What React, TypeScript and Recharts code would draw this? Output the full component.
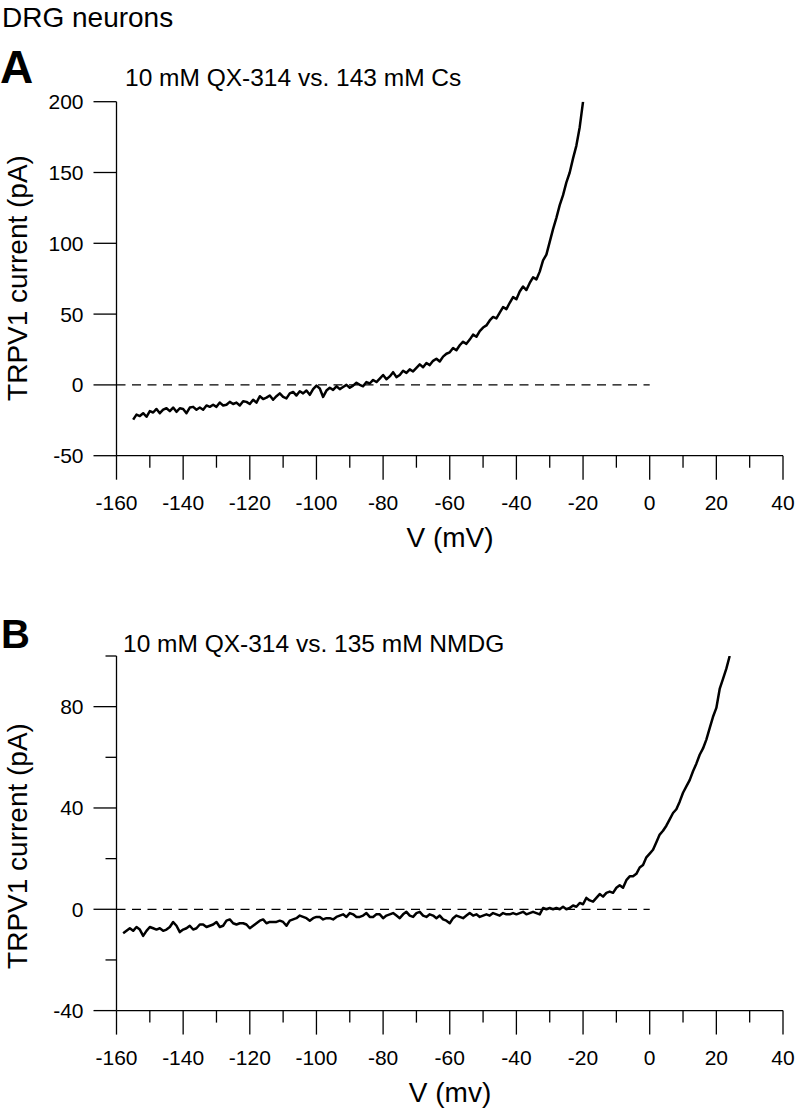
import React from 'react';
import { LineChart, Line, XAxis, YAxis, ReferenceLine } from 'recharts';

const FONT = '"Liberation Sans", Arial, Helvetica, sans-serif';

// ---------- Data ----------
const voltsA = [
  -155, -154, -153, -152, -151, -150, -149, -148, -147, -146, -145, -144, -143, -142, -141, -140,
  -139, -138, -137, -136, -135, -134, -133, -132, -131, -130, -129, -128, -127, -126, -125, -124,
  -123, -122, -121, -120, -119, -118, -117, -116, -115, -114, -113, -112, -111, -110, -109, -108,
  -107, -106, -105, -104, -103, -102, -101, -100, -99, -98, -97, -96, -95, -94, -93, -92, -91, -90,
  -89, -88, -87, -86, -85, -84, -83, -82, -81, -80, -79, -78, -77, -76, -75, -74, -73, -72, -71, -70,
  -69, -68, -67, -66, -65, -64, -63, -62, -61, -60, -59, -58, -57, -56, -55, -54, -53, -52, -51, -50,
  -49, -48, -47, -46, -45, -44, -43, -42, -41, -40, -39, -38, -37, -36, -35, -34, -33, -32, -31, -30,
  -29, -28, -27, -26, -25, -24, -23, -22, -21, -20,
];
const currentA = [
  -24.5, -21, -22, -20, -22.5, -18.5, -19.5, -17, -20, -17.5, -16.5, -18.5, -16, -19, -16.5, -17,
  -20, -16, -15.5, -17.5, -16, -17.5, -14.5, -15.5, -14, -15.5, -12.5, -14.5, -14, -12, -13.5, -12.5,
  -14.5, -11.5, -12, -13.5, -10.5, -12.5, -8, -10, -9, -7.5, -10.5, -8, -6, -8.5, -9.5, -6,
  -5, -7.5, -4.5, -6, -4, -7, -3, -0.5, -2.5, -8.5, -4, -2, -3.5, -1, -3, -1.5, 0, -2,
  -0.5, 1.5, 0, -1, 2, 1, 3.5, 2, 4.5, 7, 4, 6, 9, 5.5, 7, 10, 8.5, 11, 9.5, 12,
  14.5, 12.5, 15.5, 14, 17, 18.5, 16.5, 20, 22, 23, 26, 24.5, 28, 30.5, 29, 32, 35.5, 34, 38, 40.5,
  42, 45.5, 48, 47, 51, 55, 53.5, 58, 62, 60.5, 66, 69.5, 67, 72, 76, 74.5, 80, 88, 92, 101,
  110, 118, 127, 134, 143, 150, 160, 169, 182, 200,
];

const voltsB = [
  -158, -157, -156, -155, -154, -153, -152, -151, -150, -149, -148, -147, -146, -145, -144, -143,
  -142, -141, -140, -139, -138, -137, -136, -135, -134, -133, -132, -131, -130, -129, -128, -127,
  -126, -125, -124, -123, -122, -121, -120, -119, -118, -117, -116, -115, -114, -113, -112, -111,
  -110, -109, -108, -107, -106, -105, -104, -103, -102, -101, -100, -99, -98, -97, -96, -95, -94,
  -93, -92, -91, -90, -89, -88, -87, -86, -85, -84, -83, -82, -81, -80, -79, -78, -77, -76, -75,
  -74, -73, -72, -71, -70, -69, -68, -67, -66, -65, -64, -63, -62, -61, -60, -59, -58, -57, -56,
  -55, -54, -53, -52, -51, -50, -49, -48, -47, -46, -45, -44, -43, -42, -41, -40, -39, -38, -37,
  -36, -35, -34, -33, -32, -31, -30, -29, -28, -27, -26, -25, -24, -23, -22, -21, -20, -19, -18,
  -17, -16, -15, -14, -13, -12, -11, -10, -9, -8, -7, -6, -5, -4, -3, -2, -1, 0, 1, 2, 3, 4, 5,
  6, 7, 8, 9, 10, 11, 12, 13, 14, 15, 16, 17, 18, 19, 20, 21, 22, 23, 24,
];
const currentB = [
  -9.5, -8.5, -7.5, -8.5, -7, -8, -10.5, -8.5, -7, -7.5, -8, -7.5, -8.5, -8, -7, -5,
  -6.5, -9, -8, -7.5, -6.5, -8, -7.5, -6, -6, -7, -6.5, -6, -5, -7, -6.5, -4.5,
  -4, -5.5, -6, -5.5, -5.5, -6, -7.5, -6.5, -5.5, -4.5, -4, -5.5, -5, -5, -5, -4.5,
  -5, -6.5, -4.5, -4, -3.5, -2.5, -3, -3.5, -4.5, -3.5, -3, -3, -4, -3.5, -3.5, -4, -3,
  -2.5, -2, -3, -1.5, -2, -3, -3, -2.5, -1.5, -3, -3, -2, -2, -3.5, -2.5, -2, -1.5, -2.5, -3.5,
  -2, -1, -2.5, -3, -1.5, -1, -2.5, -3, -2, -2.5, -3.5, -2.5, -4, -4.5, -5.5, -3.5, -2.5, -3, -3.5,
  -2.5, -1.5, -2.5, -2, -3, -2.5, -2, -2.5, -1.5, -2, -2.5, -1.5, -2, -2, -1.5, -2, -1.5, -1, -2,
  -1.5, -1, -1.5, -2, 0.5, 0, 0.5, 0, 0.5, 0, 1, 0, 0.5, 1.5, 1, 2.5, 2, 4.5, 3.5,
  3, 4.5, 6, 5, 6.5, 7, 6.5, 8.5, 9.5, 8.5, 11.5, 13, 13, 14, 16.5, 17.5, 20.5, 22, 23.5, 26.5, 29.5, 31, 33,
  35.5, 38, 39.5, 42.5, 46, 48.5, 51, 54.5, 57.5, 61, 63.5, 67, 71.5, 76, 79.5, 87, 91, 95, 100,
];

const xTicks = [-160, -150, -140, -130, -120, -110, -100, -90, -80, -70, -60, -50, -40, -30, -20, -10, 0, 10, 20, 30, 40];
const xLabelledTicks = [-160, -140, -120, -100, -80, -60, -40, -20, 0, 20, 40];
const yTicksA = [-50, 0, 50, 100, 150, 200];
const yTicksB = [-40, -20, 0, 20, 40, 60, 80, 100];
const yLabelledTicksB = [-40, 0, 40, 80];

const rowsA = voltsA.map((v, k) => ({ v, cur: currentA[k] }));
const rowsB = voltsB.map((v, k) => ({ v, cur: currentB[k] }));

// ---------- Layout ----------
const W = 799;
const AXIS_X = 116.5;
const AXIS_STROKE = 1.3;

const makeXTick = (axisY: number, labelBaseline: number) => (p: any) => {
  const major = xLabelledTicks.includes(p.payload.value);
  return (
    <g key={`xt-${p.payload.value}`}>
      <line x1={p.x} x2={p.x} y1={axisY} y2={axisY + (major ? 24 : 12)} stroke="#000" strokeWidth={AXIS_STROKE} />
      {major && (
        <text x={p.x} y={labelBaseline} textAnchor="middle" fontFamily={FONT} fontSize={21} fill="#000">
          {String(p.payload.value)}
        </text>
      )}
    </g>
  );
};

const makeYTick = (labelled: number[]) => (p: any) => {
  const major = labelled.includes(p.payload.value);
  return (
    <g key={`yt-${p.payload.value}`}>
      <line x1={AXIS_X - (major ? 23 : 11)} x2={AXIS_X} y1={p.y} y2={p.y} stroke="#000" strokeWidth={AXIS_STROKE} />
      {major && (
        <text x={AXIS_X - 33} y={p.y + 7.5} textAnchor="end" fontFamily={FONT} fontSize={21} fill="#000">
          {String(p.payload.value)}
        </text>
      )}
    </g>
  );
};

const ChartA = () => (
  <LineChart width={W} height={530} data={rowsA} margin={{ top: 101.7, right: 16, bottom: 0, left: 0 }}>
    <XAxis
      dataKey="v"
      type="number"
      domain={[-160, 40]}
      ticks={xTicks}
      interval={0}
      height={74.3}
      allowDataOverflow
      tickLine={false}
      axisLine={{ stroke: '#000', strokeWidth: AXIS_STROKE }}
      tick={makeXTick(455.7, 510)}
    />
    <YAxis
      type="number"
      domain={[-50, 200]}
      ticks={yTicksA}
      interval={0}
      width={AXIS_X}
      allowDataOverflow
      tickLine={false}
      axisLine={{ stroke: '#000', strokeWidth: AXIS_STROKE }}
      tick={makeYTick(yTicksA)}
    />
    <ReferenceLine
      segment={[{ x: -160, y: 0 }, { x: 0, y: 0 }]}
      stroke="#000"
      strokeWidth={1.3}
      strokeDasharray="9 6.5"
      ifOverflow="visible"
    />
    <Line
      dataKey="cur"
      type="linear"
      stroke="#000"
      strokeWidth={2.5}
      strokeLinejoin="round"
      dot={false}
      activeDot={false}
      isAnimationActive={false}
    />
  </LineChart>
);

const ChartB = () => (
  <LineChart width={W} height={551} data={rowsB} margin={{ top: 96, right: 16, bottom: 0, left: 0 }}>
    <XAxis
      dataKey="v"
      type="number"
      domain={[-160, 40]}
      ticks={xTicks}
      interval={0}
      height={100.4}
      allowDataOverflow
      tickLine={false}
      axisLine={{ stroke: '#000', strokeWidth: AXIS_STROKE }}
      tick={makeXTick(450.6, 505)}
    />
    <YAxis
      type="number"
      domain={[-40, 100]}
      ticks={yTicksB}
      interval={0}
      width={AXIS_X}
      allowDataOverflow
      tickLine={false}
      axisLine={{ stroke: '#000', strokeWidth: AXIS_STROKE }}
      tick={makeYTick(yLabelledTicksB)}
    />
    <ReferenceLine
      segment={[{ x: -160, y: 0 }, { x: 0, y: 0 }]}
      stroke="#000"
      strokeWidth={1.3}
      strokeDasharray="9 6.5"
      ifOverflow="visible"
    />
    <Line
      dataKey="cur"
      type="linear"
      stroke="#000"
      strokeWidth={2.5}
      strokeLinejoin="round"
      dot={false}
      activeDot={false}
      isAnimationActive={false}
    />
  </LineChart>
);

export default function App() {
  return (
    <div style={{ position: 'absolute', left: 0, top: 0, width: W, height: 1111, background: '#fff' }}>
      <div style={{ position: 'absolute', left: 0, top: 0 }}>
        <ChartA />
      </div>
      <div style={{ position: 'absolute', left: 0, top: 560 }}>
        <ChartB />
      </div>
      <svg
        width={W}
        height={1111}
        style={{ position: 'absolute', left: 0, top: 0, pointerEvents: 'none' }}
        fontFamily={FONT}
      >
        <text x={2} y={27} fontSize={28} fill="#000">DRG neurons</text>
        <text x={0} y={83} fontSize={46} fontWeight="bold" fill="#000">A</text>
        <text x={125} y={86} fontSize={24.5} fill="#000">10 mM QX-314 vs. 143 mM Cs</text>
        <text transform="translate(27 278) rotate(-90)" textAnchor="middle" fontSize={28} fill="#000">
          TRPV1 current (pA)
        </text>
        <text x={450} y={547} textAnchor="middle" fontSize={28} fill="#000">V (mV)</text>

        <text x={1} y={648} fontSize={40} fontWeight="bold" fill="#000">B</text>
        <text x={123} y={652} fontSize={24.5} fill="#000">10 mM QX-314 vs. 135 mM NMDG</text>
        <text transform="translate(27 846) rotate(-90)" textAnchor="middle" fontSize={28} fill="#000">
          TRPV1 current (pA)
        </text>
        <text x={450} y={1102} textAnchor="middle" fontSize={28} fill="#000">V (mv)</text>
      </svg>
    </div>
  );
}
